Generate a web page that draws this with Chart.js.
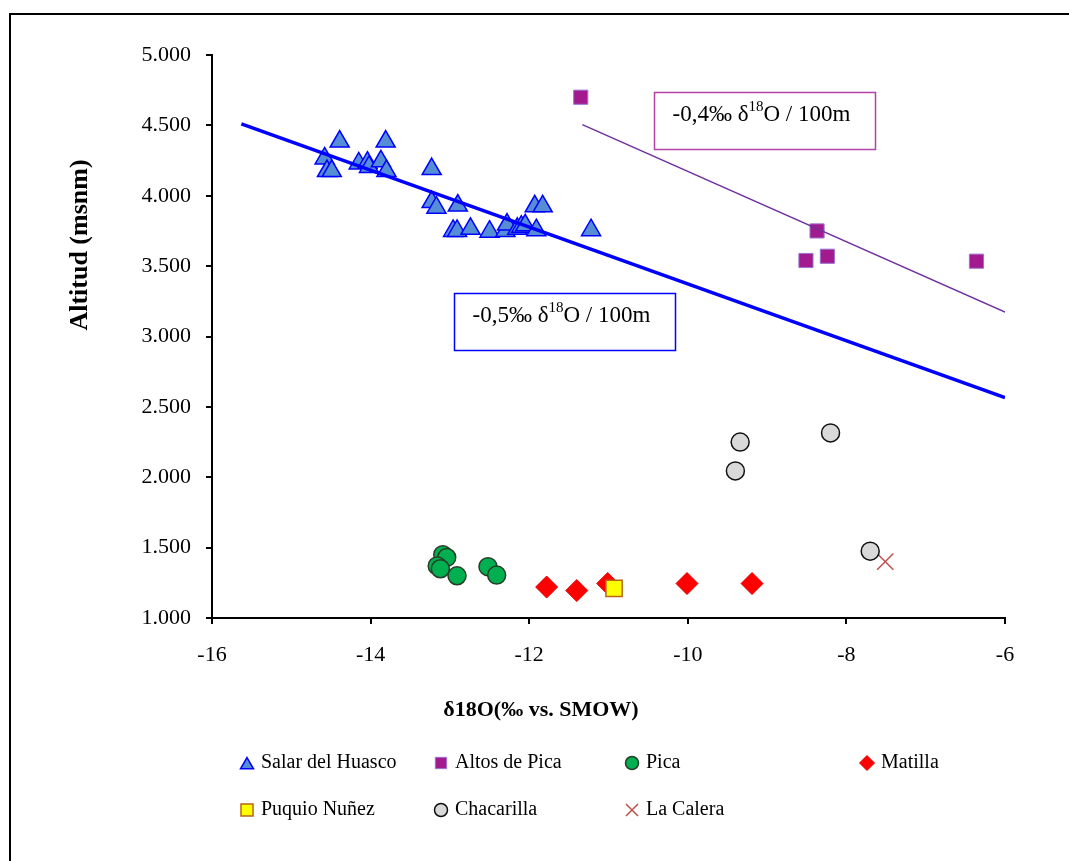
<!DOCTYPE html>
<html>
<head>
<meta charset="utf-8">
<script src="https://cdn.jsdelivr.net/npm/chart.js@4.4.1/dist/chart.umd.min.js"></script>
<style>
  html, body { margin: 0; padding: 0; background: #fff; }
  #chart { display: block; }
</style>
</head>
<body>
<canvas id="chart" width="1069" height="861"></canvas>
<script>
// values
const huascoX = [-14.39, -13.81, -14.58, -14.55, -14.49, -14.15, -14.04, -14.02, -13.87, -13.80, -13.23, -13.23, -13.17,
                 -12.90, -12.96, -12.91, -12.74, -12.50, -12.30, -12.28, -12.15, -12.10, -12.05, -11.93, -11.83, -11.91, -11.22];
const huascoY = [4385, 4385, 4265, 4175, 4175, 4230, 4235, 4205, 4245, 4175, 4190, 3955, 3915,
                 3930, 3750, 3750, 3765, 3745, 3750, 3795, 3765, 3780, 3790, 3925, 3925, 3755, 3755];
const altosX = [-11.35, -8.37, -8.51, -8.24, -6.36];
const altosY = [4700, 3750, 3540, 3570, 3535];
const picaX = [-13.09, -13.04, -13.16, -13.12, -12.91, -12.52, -12.41];
const picaY = [1450, 1430, 1370, 1350, 1300, 1365, 1305];
const matillaX = [-11.78, -11.40, -11.01, -10.01, -9.19];
const matillaY = [1220, 1195, 1245, 1245, 1245];
const puquioX = [-10.93];
const puquioY = [1210];
const chacaX = [-9.34, -9.40, -8.20, -7.70];
const chacaY = [2250, 2045, 2315, 1475];
const caleraX = [-7.51];
const caleraY = [1400];

// trend lines
const huascoFitX = [-15.63, -6];
const huascoFitY = [4510, 2565];
const altosFitX = [-11.33, -6];
const altosFitY = [4505, 3173];

const xTicks = [-16, -14, -12, -10, -8, -6];
const yTicks = [1000, 1500, 2000, 2500, 3000, 3500, 4000, 4500, 5000];

const SERIF = "'Liberation Serif', 'Times New Roman', serif";

function pts(xs, ys) {
  return xs.map((x, i) => ({ x: x, y: ys[i] }));
}

const series = [
  { label: "Salar del Huasco", x: huascoX, y: huascoY, style: "triangle", r: 11, fill: "#558ED5", line: "#0000FF", bw: 1.5, lr: 7.5 },
  { label: "Altos de Pica", x: altosX, y: altosY, style: "rect", r: 10, fill: "#A31A8E", line: "#9B73D0", bw: 1, lr: 8 },
  { label: "Pica", x: picaX, y: picaY, style: "circle", r: 9, fill: "#00B050", line: "#263D26", bw: 1.5, lr: 6.5 },
  { label: "Puquio Nuñez", x: puquioX, y: puquioY, style: "rect", r: 11.5, fill: "#FFFF00", line: "#B8651A", bw: 1.5, lr: 8.5 },
  { label: "Matilla", x: matillaX, y: matillaY, style: "rectRot", r: 11, fill: "#FF0000", line: "#E00000", bw: 1, lr: 7.5 },
  { label: "Chacarilla", x: chacaX, y: chacaY, style: "circle", r: 9, fill: "#D9D9D9", line: "#111111", bw: 1.5, lr: 6.5 },
  { label: "La Calera", x: caleraX, y: caleraY, style: "crossRot", r: 11.5, fill: "#C0504D", line: "#C0504D", bw: 1.5, lr: 8.5 }
];

const datasets = [
  { type: "line", data: pts(huascoFitX, huascoFitY), borderColor: "#0000FF", borderWidth: 3.5, pointRadius: 0, fill: false },
  { type: "line", data: pts(altosFitX, altosFitY), borderColor: "#7030A0", borderWidth: 1.5, pointRadius: 0, fill: false }
];
series.forEach(s => {
  datasets.push({
    label: s.label,
    data: pts(s.x, s.y),
    pointStyle: s.style,
    pointRadius: s.r,
    pointHoverRadius: s.r,
    backgroundColor: s.fill,
    borderColor: s.line,
    borderWidth: s.bw
  });
});

// legend layout: 4 columns, 2 rows
const legendCols = [247, 441, 632, 867];
const legendRows = [763, 810];
const legendOrder = ["Salar del Huasco", "Altos de Pica", "Pica", "Matilla", "Puquio Nuñez", "Chacarilla", "La Calera"];

function drawRich(ctx, x, y, parts, size) {
  parts.forEach(p => {
    const fs = p.sup ? Math.round(size * 0.64) : size;
    ctx.font = fs + "px " + SERIF;
    ctx.fillText(p.t, x, p.sup ? y - size * 0.33 : y);
    x += ctx.measureText(p.t).width;
  });
}

const notes = [
  { x: -12.95, y: 3310, color: "#0000FF", parts: [{ t: "-0,5‰ δ" }, { t: "18", sup: true }, { t: "O / 100m" }] },
  { x: -10.43, y: 4738, color: "#B540A8", parts: [{ t: "-0,4‰ δ" }, { t: "18", sup: true }, { t: "O / 100m" }] }
];

const decor = {
  id: "decor",
  afterDraw(chart) {
    const ctx = chart.ctx;
    const xs = chart.scales.x, ys = chart.scales.y;
    ctx.save();

    // outer frame
    ctx.strokeStyle = "#000";
    ctx.lineWidth = 2;
    ctx.beginPath();
    ctx.moveTo(10, chart.height);
    ctx.lineTo(10, 14);
    ctx.lineTo(chart.width, 14);
    ctx.stroke();

    // slope boxes
    notes.forEach(n => {
      const bx = Math.round(xs.getPixelForValue(n.x)) + 0.5;
      const by = Math.round(ys.getPixelForValue(n.y)) + 0.5;
      ctx.fillStyle = "#fff";
      ctx.fillRect(bx, by, 221, 57);
      ctx.strokeStyle = n.color;
      ctx.lineWidth = 1.5;
      ctx.strokeRect(bx, by, 221, 57);
      ctx.fillStyle = "#000";
      ctx.textBaseline = "middle";
      ctx.textAlign = "left";
      drawRich(ctx, bx + 18, by + 22, n.parts, 23);
    });

    // axis titles
    ctx.fillStyle = "#000";
    ctx.textAlign = "center";
    ctx.textBaseline = "middle";
    ctx.font = "bold 22px " + SERIF;
    ctx.fillText("δ18O(‰ vs. SMOW)", 541, 710);
    ctx.save();
    ctx.translate(80, 245);
    ctx.rotate(-Math.PI / 2);
    ctx.font = "bold 26px " + SERIF;
    ctx.fillText("Altitud (msnm)", 0, 0);
    ctx.restore();

    // legend
    ctx.textAlign = "left";
    legendOrder.forEach((name, i) => {
      const s = series.find(q => q.label === name);
      const cx = legendCols[i < 4 ? i : i - 4];
      const cy = legendRows[i < 4 ? 0 : 1];
      ctx.fillStyle = s.fill;
      ctx.strokeStyle = s.line;
      ctx.lineWidth = s.bw;
      Chart.helpers.drawPoint(ctx, { pointStyle: s.style, radius: s.lr, rotation: 0, borderWidth: s.bw }, cx, cy + (s.style === "triangle" ? 2 : 0));
      ctx.fillStyle = "#000";
      ctx.font = "20px " + SERIF;
      ctx.fillText(name, cx + 14, cy);
    });

    ctx.restore();
  }
};

new Chart(document.getElementById("chart"), {
  type: "scatter",
  data: { datasets: datasets },
  options: {
    responsive: false,
    animation: false,
    layout: { padding: { left: 0, right: 64, top: 55, bottom: 0 } },
    plugins: { legend: { display: false }, tooltip: { enabled: false } },
    scales: {
      x: {
        type: "linear",
        min: -16,
        max: -6,
        afterBuildTicks: s => { s.ticks = xTicks.map(v => ({ value: v })); },
        afterFit: s => { s.height = 243; },
        ticks: { color: "#000", font: { family: SERIF, size: 22 }, padding: 18 },
        grid: { drawOnChartArea: false, drawTicks: true, tickLength: 6, color: "#000", lineWidth: 2 },
        border: { display: true, color: "#000", width: 2 }
      },
      y: {
        type: "linear",
        min: 1000,
        max: 5000,
        afterBuildTicks: s => { s.ticks = yTicks.map(v => ({ value: v })); },
        afterFit: s => { s.width = 212; },
        ticks: {
          color: "#000",
          font: { family: SERIF, size: 22 },
          padding: 15,
          callback: v => (v / 1000).toFixed(3)
        },
        grid: { drawOnChartArea: false, drawTicks: true, tickLength: 6, color: "#000", lineWidth: 2 },
        border: { display: true, color: "#000", width: 2 }
      }
    }
  },
  plugins: [decor]
});
</script>
</body>
</html>
